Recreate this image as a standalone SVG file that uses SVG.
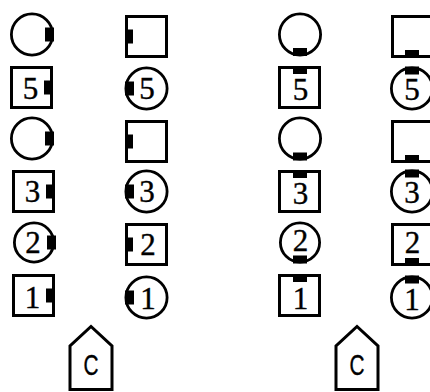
<svg xmlns="http://www.w3.org/2000/svg" width="430" height="392" viewBox="0 0 430 392">
<style>
.sq{fill:#fff;stroke:#000;stroke-width:3}
.ci{fill:#fff;stroke:#000;stroke-width:2.8}
.nt{fill:#000}
.num{font-family:"Liberation Serif",serif;font-size:31px;text-anchor:middle;fill:#000;stroke:#000;stroke-width:0.4}
.lbl{font-family:"Liberation Sans",sans-serif;font-size:29px;text-anchor:middle;fill:#000;stroke:#000;stroke-width:0.4}
.pen{fill:#fff;stroke:#000;stroke-width:3;stroke-linejoin:miter}
</style>
<rect width="430" height="392" fill="#fff"/>
<g id="connectors"/>
<!-- Left half -->
<g id="a1"><circle class="ci" cx="32" cy="34.5" r="20.6"/><rect class="nt" x="45" y="27.5" width="9" height="14"/></g>
<g id="b1"><rect class="sq" x="126.5" y="16.5" width="40" height="40"/><rect class="nt" x="125" y="29.5" width="8" height="14"/></g>
<g id="a2"><rect class="sq" x="11.5" y="67.5" width="40" height="40"/><rect class="nt" x="44" y="80.5" width="9" height="14"/><text class="num" x="30.5" y="99">5</text></g>
<g id="b2"><circle class="ci" cx="146.5" cy="88.5" r="20.6"/><rect class="nt" x="125" y="81.5" width="9" height="14"/><text class="num" x="147" y="99">5</text></g>
<g id="a3"><circle class="ci" cx="32" cy="138.5" r="20.6"/><rect class="nt" x="45" y="131.5" width="9" height="14"/></g>
<g id="b3"><rect class="sq" x="126.5" y="121.5" width="40" height="40"/><rect class="nt" x="125" y="134.5" width="8" height="14"/></g>
<g id="a4"><rect class="sq" x="13.5" y="171.5" width="40" height="40"/><rect class="nt" x="46" y="184.5" width="9" height="14"/><text class="num" x="32.5" y="202">3</text></g>
<g id="b4"><circle class="ci" cx="146.5" cy="191.5" r="20.6"/><rect class="nt" x="125" y="184.5" width="9" height="14"/><text class="num" x="147" y="202">3</text></g>
<g id="a5"><circle class="ci" cx="34" cy="242.5" r="19.6"/><rect class="nt" x="47" y="235.5" width="9" height="14"/><text class="num" x="33" y="253">2</text></g>
<g id="b5"><rect class="sq" x="126.5" y="224.5" width="40" height="40"/><rect class="nt" x="125" y="237.5" width="8" height="14"/><text class="num" x="148" y="255">2</text></g>
<g id="a6"><rect class="sq" x="13.5" y="275.5" width="40" height="40"/><rect class="nt" x="46" y="288.5" width="9" height="14"/><text class="num" x="32.5" y="307.5">1</text></g>
<g id="b6"><circle class="ci" cx="146.5" cy="297.5" r="20.6"/><rect class="nt" x="125" y="290.5" width="9" height="14"/><text class="num" x="148" y="308.5">1</text></g>
<g id="c-left"><polygon class="pen" points="70,389.5 70,346 91,326.5 112,346 112,389.5"/><text class="lbl" x="91" y="375" textLength="15" lengthAdjust="spacingAndGlyphs">C</text></g>
<!-- Right half -->
<g id="c1"><circle class="ci" cx="300" cy="34.5" r="20.6"/><rect class="nt" x="293" y="48" width="14" height="8"/></g>
<g id="d1"><rect class="sq" x="392.5" y="16.5" width="40" height="40"/><rect class="nt" x="405" y="50" width="14" height="8"/></g>
<g id="c2"><rect class="sq" x="279.5" y="67.5" width="40" height="40"/><rect class="nt" x="293" y="66" width="14" height="8"/><text class="num" x="300.5" y="100">5</text></g>
<g id="d2"><circle class="ci" cx="412" cy="88.5" r="20.6"/><rect class="nt" x="405" y="66.5" width="14" height="8"/><text class="num" x="412" y="100">5</text></g>
<g id="c3"><circle class="ci" cx="300" cy="138.5" r="20.6"/><rect class="nt" x="293" y="152.5" width="14" height="8"/></g>
<g id="d3"><rect class="sq" x="392.5" y="121.5" width="40" height="40"/><rect class="nt" x="405" y="155" width="14" height="8"/></g>
<g id="c4"><rect class="sq" x="279.5" y="171.5" width="40" height="40"/><rect class="nt" x="293" y="170" width="14" height="8"/><text class="num" x="300.5" y="204">3</text></g>
<g id="d4"><circle class="ci" cx="412" cy="191.5" r="20.6"/><rect class="nt" x="405" y="169.5" width="14" height="8"/><text class="num" x="412" y="203">3</text></g>
<g id="c5"><circle class="ci" cx="300" cy="242.5" r="19.6"/><rect class="nt" x="293" y="255.5" width="14" height="8"/><text class="num" x="300.5" y="251">2</text></g>
<g id="d5"><rect class="sq" x="392.5" y="224.5" width="40" height="40"/><rect class="nt" x="405" y="258" width="14" height="8"/><text class="num" x="412.5" y="253">2</text></g>
<g id="c6"><rect class="sq" x="279.5" y="275.5" width="40" height="40"/><rect class="nt" x="293" y="274" width="14" height="8"/><text class="num" x="300.5" y="309">1</text></g>
<g id="d6"><circle class="ci" cx="412" cy="297.5" r="20.6"/><rect class="nt" x="405" y="275.5" width="14" height="8"/><text class="num" x="412" y="310">1</text></g>
<g id="c-right"><polygon class="pen" points="336,389.5 336,346 357,326.5 378,346 378,389.5"/><text class="lbl" x="357" y="375" textLength="15" lengthAdjust="spacingAndGlyphs">C</text></g>
</svg>
